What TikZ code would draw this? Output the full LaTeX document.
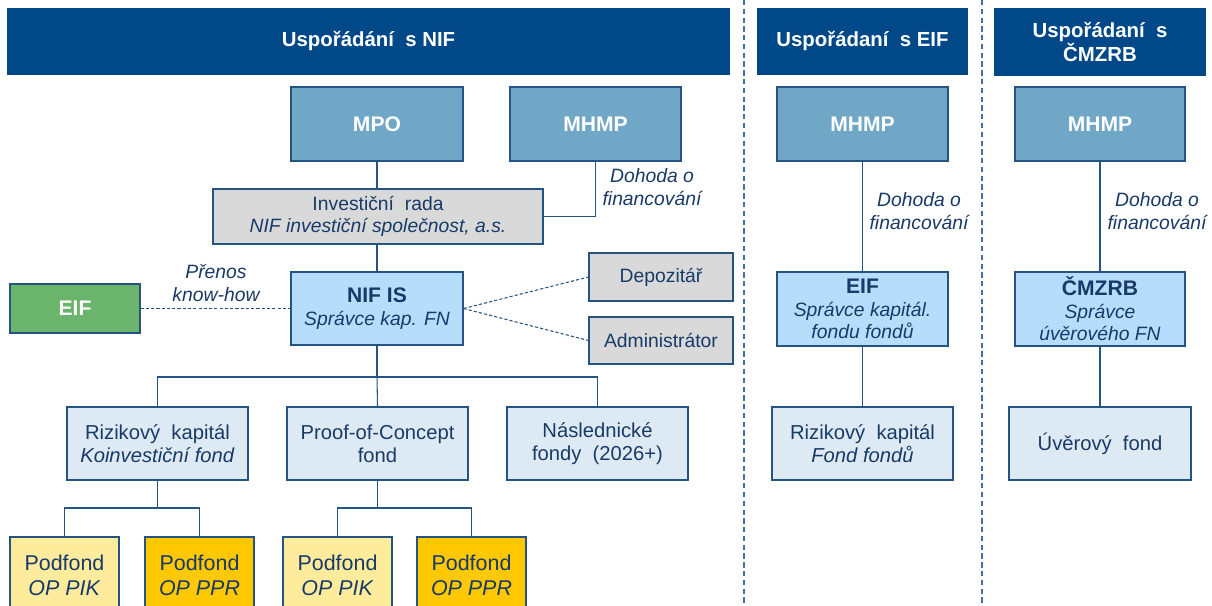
\documentclass[tikz,border=0pt]{standalone}
\usepackage{fontspec}
\setmainfont{Liberation Sans}
\usetikzlibrary{positioning}
\definecolor{hlavicka}{RGB}{0,72,135}
\definecolor{okraj}{RGB}{38,84,130}
\definecolor{pismo}{RGB}{24,58,104}
\definecolor{tmavamodra}{RGB}{112,166,198}
\definecolor{svetlamodra}{RGB}{183,221,253}
\definecolor{bledamodra}{RGB}{222,234,243}
\definecolor{seda}{RGB}{217,217,217}
\definecolor{zelena}{RGB}{107,180,107}
\definecolor{svetlezluta}{RGB}{255,235,156}
\definecolor{zluta}{RGB}{255,200,0}
\definecolor{delic}{RGB}{70,110,160}
\tikzset{
	every node/.style = {font=\fontsize{11}{12.8}\selectfont, text=pismo},
	rozmer/.style 2 args = {minimum width=#1*0.02cm, minimum height=#2*0.02cm},
	box/.style = {draw=okraj, line width=0.6pt, align=center, inner sep=1pt},
	hlava/.style = {fill=hlavicka, align=center, text=white, font=\fontsize{11.6}{13.5}\selectfont\bfseries},
	instituce/.style = {box, fill=tmavamodra, text=white, font=\fontsize{12}{14}\selectfont\bfseries},
	spravce/.style = {box, fill=svetlamodra},
	fond/.style = {box, fill=bledamodra, font=\fontsize{11.5}{13}\selectfont},
	podfond/.style = {box, font=\fontsize{12.2}{14.2}\selectfont},
	sluzba/.style = {box, fill=seda},
	spoj/.style = {draw=okraj, line width=0.6pt},
	carkovana/.style = {draw=okraj, line width=0.6pt, dash pattern=on 1.8pt off 1.2pt},
	popis/.style = {align=center, font=\fontsize{11}{12.8}\selectfont\itshape}
}

\begin{document}
\begin{tikzpicture}[x=0.02cm, y=-0.02cm]
		\useasboundingbox (0,0) rectangle (1212,605);
		% hlavicky
		\node[hlava, rozmer={723}{67}] (hlava1) at (368.5,41.5) {Uspořádání~ s NIF};
		\node[hlava, rozmer={211}{67}] (hlava2) at (862.5,41.5) {Uspořádaní~ s EIF};
		\node[hlava, rozmer={212}{68}] (hlava3) at (1100,42) {Uspořádaní~ s\\ČMZRB};
		% delici cary
		\coordinate (d1a) at (744,0);
		\coordinate (d1b) at (744,605);
		\coordinate (d2a) at (982,0);
		\coordinate (d2b) at (982,605);
		\draw[delic, line width=1.1pt, dash pattern=on 3pt off 2pt] (d1a) -- (d1b);
		\draw[delic, line width=1.1pt, dash pattern=on 3pt off 2pt] (d2a) -- (d2b);
		
		% usporadani s NIF
		\node[instituce, rozmer={172}{74}] (mpo) at (377,124) {MPO};
		\node[instituce, rozmer={171}{74}] (mhmp) at (595.5,124) {MHMP};
		\node[sluzba, rozmer={330}{55}] (rada) at (378,216.5) {Investiční~ rada\\\textit{NIF investiční společnost, a.s.}};
		\node[spravce, rozmer={172}{73}] (nifis) at (377,308.5) {\fontsize{12}{14}\selectfont\textbf{NIF IS}\\\textit{Správce kap. FN}};
		\node[box, fill=zelena, text=white, font=\fontsize{12}{14}\selectfont\bfseries, rozmer={130}{49}] (eif) at (75,308.5) {EIF};
		\node[sluzba, rozmer={144}{48}] (depo) at (661,277) {Depozitář};
		\node[sluzba, rozmer={144}{47}] (admin) at (661,340.5) {Administrátor};
		\node[fond, rozmer={181}{73}] (rk) at (157.5,443.5) {Rizikový~ kapitál\\\textit{Koinvestiční fond}};
		\node[fond, rozmer={181}{73}] (poc) at (377.5,443.5) {Proof-of-Concept\\fond};
		\node[fond, rozmer={181}{73}] (nasl) at (597.5,443.5) {Následnické\\fondy~ (2026+)};
		\node[podfond, fill=svetlezluta, rozmer={109}{76}] (pf1) at (64.5,575) {Podfond\\\textit{OP PIK}};
		\node[podfond, fill=zluta, rozmer={109}{76}] (pf2) at (199.5,575) {Podfond\\\textit{OP PPR}};
		\node[podfond, fill=svetlezluta, rozmer={109}{76}] (pf3) at (337.5,575) {Podfond\\\textit{OP PIK}};
		\node[podfond, fill=zluta, rozmer={109}{76}] (pf4) at (471.5,575) {Podfond\\\textit{OP PPR}};
		
		\draw[spoj] (mpo.south) -- (mpo.south |- rada.north);
		\draw[spoj] (mhmp.south) |- (rada.east);
		\node[popis] (dohoda1) at (652,187) {Dohoda o\\financování};
		\draw[spoj] (nifis.north |- rada.south) -- (nifis.north);
		\draw[carkovana] (eif) -- (nifis);
		\node[popis] (prenos) at (216,283) {Přenos\\know-how};
		\draw[carkovana] (nifis.east) -- (depo.west);
		\draw[carkovana] (nifis.east) -- (admin.west);
		\coordinate (rozv) at (377,377);
		\draw[spoj] (nifis.south) -- (rozv);
		\draw[spoj] (rk.north) |- (rozv) -| (nasl.north);
		\draw[spoj] (rozv) -- (poc.north);
		\coordinate (rozv1) at (157.5,508);
		\draw[spoj] (rk.south) -- (rozv1);
		\draw[spoj] (pf1.north) |- (rozv1) -| (pf2.north);
		\coordinate (rozv2) at (377.5,508);
		\draw[spoj] (poc.south) -- (rozv2);
		\draw[spoj] (pf3.north) |- (rozv2) -| (pf4.north);
		
		% usporadani s EIF
		\node[instituce, rozmer={171}{74}] (mhmp2) at (862.5,124) {MHMP};
		\node[spravce, rozmer={171}{74}] (eif2) at (862.5,309) {\fontsize{12}{14}\selectfont\textbf{EIF}\\\textit{Správce kapitál.}\\\textit{fondu fondů}};
		\node[fond, rozmer={181}{73}] (rk2) at (862.5,443.5) {Rizikový~ kapitál\\\textit{Fond fondů}};
		\draw[spoj] (mhmp2) -- (eif2);
		\draw[spoj] (eif2) -- (rk2);
		\node[popis] (dohoda2) at (919,211) {Dohoda o\\financování};
		
		% usporadani s CMZRB
		\node[instituce, rozmer={170}{74}] (mhmp3) at (1100,124) {MHMP};
		\node[spravce, rozmer={170}{74}] (cmzrb) at (1100,309) {\fontsize{12}{14}\selectfont\textbf{ČMZRB}\\\textit{Správce}\\\textit{úvěrového FN}};
		\node[fond, rozmer={182}{73}] (uver) at (1100,443.5) {Úvěrový~ fond};
		\draw[spoj] (mhmp3) -- (cmzrb);
		\draw[spoj] (cmzrb) -- (uver);
		\node[popis] (dohoda3) at (1157,211) {Dohoda o\\financování};
	\end{tikzpicture}
\end{document}
